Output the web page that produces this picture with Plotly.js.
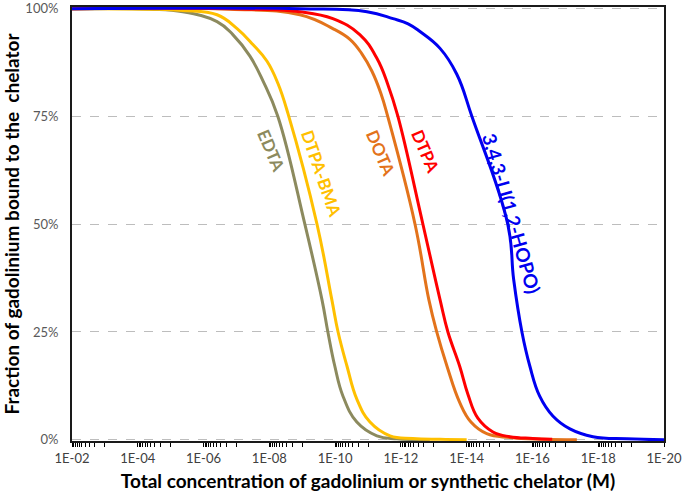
<!DOCTYPE html>
<html>
<head>
<meta charset="utf-8">
<script src="https://cdn.plot.ly/plotly-3.0.1.min.js"></script>
<style>html,body{margin:0;padding:0;background:#fff;}#chart{width:685px;height:497px;}</style>
</head>
<body>
<div id="chart"></div>
<script>
// log10 of total concentration (M) and fraction bound
const EDTA_logC = [-2, -4.37, -5.37, -6.41, -6.89, -7.41, -7.81, -8.26, -9.08, -9.60, -9.78, -9.99, -10.24, -10.66, -11.27, -11.88, -12.88];
const EDTA_frac = [1.000, 0.999, 0.993, 0.970, 0.940, 0.890, 0.832, 0.750, 0.500, 0.325, 0.250, 0.171, 0.101, 0.041, 0.009, 0.002, 0.000];

const BMA_logC = [-2, -4.37, -5.37, -6.41, -7.02, -7.50, -7.93, -8.26, -8.57, -9.45, -9.90, -10.09, -10.36, -10.66, -11.06, -11.67, -12.36, -13.19, -14.0];
const BMA_frac = [1.000, 0.999, 0.996, 0.986, 0.954, 0.917, 0.878, 0.827, 0.756, 0.500, 0.325, 0.250, 0.171, 0.094, 0.041, 0.009, 0.003, 0.001, 0.000];

const DOTA_logC = [-2, -6.80, -8.93, -9.93, -10.45, -10.81, -11.12, -11.39, -11.60, -12.43, -12.85, -13.09, -13.40, -13.79, -14.13, -14.61, -15.31, -16.32, -17.35];
const DOTA_frac = [1.000, 0.999, 0.986, 0.954, 0.929, 0.896, 0.855, 0.804, 0.750, 0.500, 0.325, 0.250, 0.171, 0.086, 0.041, 0.014, 0.005, 0.001, 0.000];

const DTPA_logC = [-2, -7.41, -8.93, -9.93, -10.75, -11.27, -11.60, -11.91, -12.67, -13.19, -13.43, -13.79, -14.04, -14.34, -14.80, -15.31, -16.01, -16.60];
const DTPA_frac = [1.000, 0.999, 0.993, 0.977, 0.940, 0.885, 0.825, 0.750, 0.500, 0.325, 0.250, 0.170, 0.105, 0.050, 0.018, 0.007, 0.003, 0.001];

const HOPO_logC = [-2, -8.93, -10.97, -11.76, -12.22, -12.58, -13.19, -13.70, -14.16, -15.25, -15.43, -15.68, -15.92, -16.22, -16.62, -17.14, -17.84, -18.87, -20];
const HOPO_frac = [1.000, 1.000, 0.993, 0.977, 0.965, 0.947, 0.908, 0.848, 0.750, 0.500, 0.371, 0.250, 0.171, 0.101, 0.055, 0.025, 0.007, 0.002, 0.000];

const seriesNames = ["EDTA", "DTPA-BMA", "DOTA", "DTPA", "3,4,3-LI(1,2-HOPO)"];
const seriesColors = ["#8C8A5E", "#FFC000", "#E3731B", "#FF0000", "#0000F0"];

const xTickExp = [-2, -4, -6, -8, -10, -12, -14, -16, -18, -20];
const xTickText = ["1E-02", "1E-04", "1E-06", "1E-08", "1E-10", "1E-12", "1E-14", "1E-16", "1E-18", "1E-20"];
const yTickVals = [0, 0.25, 0.5, 0.75, 1];
const yTickText = ["0%", "25%", "50%", "75%", "100%"];

// label anchor points (logC, fraction), rotation and size
const labelLogC = [-8.05, -9.58, -11.38, -12.73, -15.37];
const labelFrac = [0.670, 0.617, 0.666, 0.670, 0.525];
const labelAngle = [67, 71, 67, 67, 74];
const labelSize = [17, 17, 17, 17, 19];

const toC = e => Math.pow(10, e);
const logs = [EDTA_logC, BMA_logC, DOTA_logC, DTPA_logC, HOPO_logC];
const fracs = [EDTA_frac, BMA_frac, DOTA_frac, DTPA_frac, HOPO_frac];

const traces = logs.map((lc, i) => ({
  type: 'scatter', mode: 'lines',
  x: lc.map(toC), y: fracs[i], name: seriesNames[i],
  line: {color: seriesColors[i], width: 3, shape: 'spline', smoothing: 1.2}
}));

// minor ticks: Excel-style linear minor units inside each two-decade major interval
const minorVals = [];
for (let k = 0; k < xTickExp.length - 1; k++) {
  const top = Math.pow(10, xTickExp[k] - 1);
  for (let m = 1; m <= 9; m++) minorVals.push(m * top);
}

const annotations = seriesNames.map((n, i) => ({
  x: labelLogC[i], y: labelFrac[i], xref: 'x', yref: 'y',
  text: n, showarrow: false, textangle: labelAngle[i],
  font: {family: 'Lato, sans-serif', size: labelSize[i], color: seriesColors[i], weight: 'bold'}
}));

const layout = {
  width: 685, height: 497,
  margin: {l: 72, r: 21, t: 7, b: 56},
  paper_bgcolor: '#fff', plot_bgcolor: '#fff',
  showlegend: false,
  font: {family: 'Lato, sans-serif'},
  xaxis: {
    type: 'log', range: [-2, -20],
    tickmode: 'array', tickvals: xTickExp.map(toC), ticktext: xTickText,
    ticks: 'outside', ticklen: 4, tickwidth: 1, tickcolor: '#000',
    minor: {tickmode: 'array', tickvals: minorVals, ticks: 'outside', ticklen: 4, tickwidth: 1, tickcolor: '#000', showgrid: false},
    showgrid: false, zeroline: false,
    showline: true, linecolor: '#1a1a1a', linewidth: 2, mirror: true,
    tickfont: {family: 'Lato, sans-serif', size: 13, color: '#404040'},
    title: {text: 'Total concentration of gadolinium or synthetic chelator (M)', standoff: 10,
            font: {family: 'Lato, sans-serif', size: 19, color: '#000', weight: 'bold'}}
  },
  yaxis: {
    range: [-0.003, 1.004],
    tickmode: 'array', tickvals: yTickVals, ticktext: yTickText,
    ticks: 'outside', ticklen: 9, tickcolor: 'rgba(0,0,0,0)',
    showgrid: true, gridcolor: '#BDBDBD', griddash: 'dash', gridwidth: 1,
    zeroline: false,
    showline: true, linecolor: '#1a1a1a', linewidth: 2, mirror: true,
    tickfont: {family: 'Lato, sans-serif', size: 13, color: '#595959'},
    title: {text: 'Fraction of gadolinium bound to the  chelator', standoff: 6,
            font: {family: 'Lato, sans-serif', size: 19, color: '#000', weight: 'bold'}}
  },
  annotations: annotations
};

Plotly.newPlot('chart', traces, layout, {displayModeBar: false, staticPlot: true});
</script>
</body>
</html>
